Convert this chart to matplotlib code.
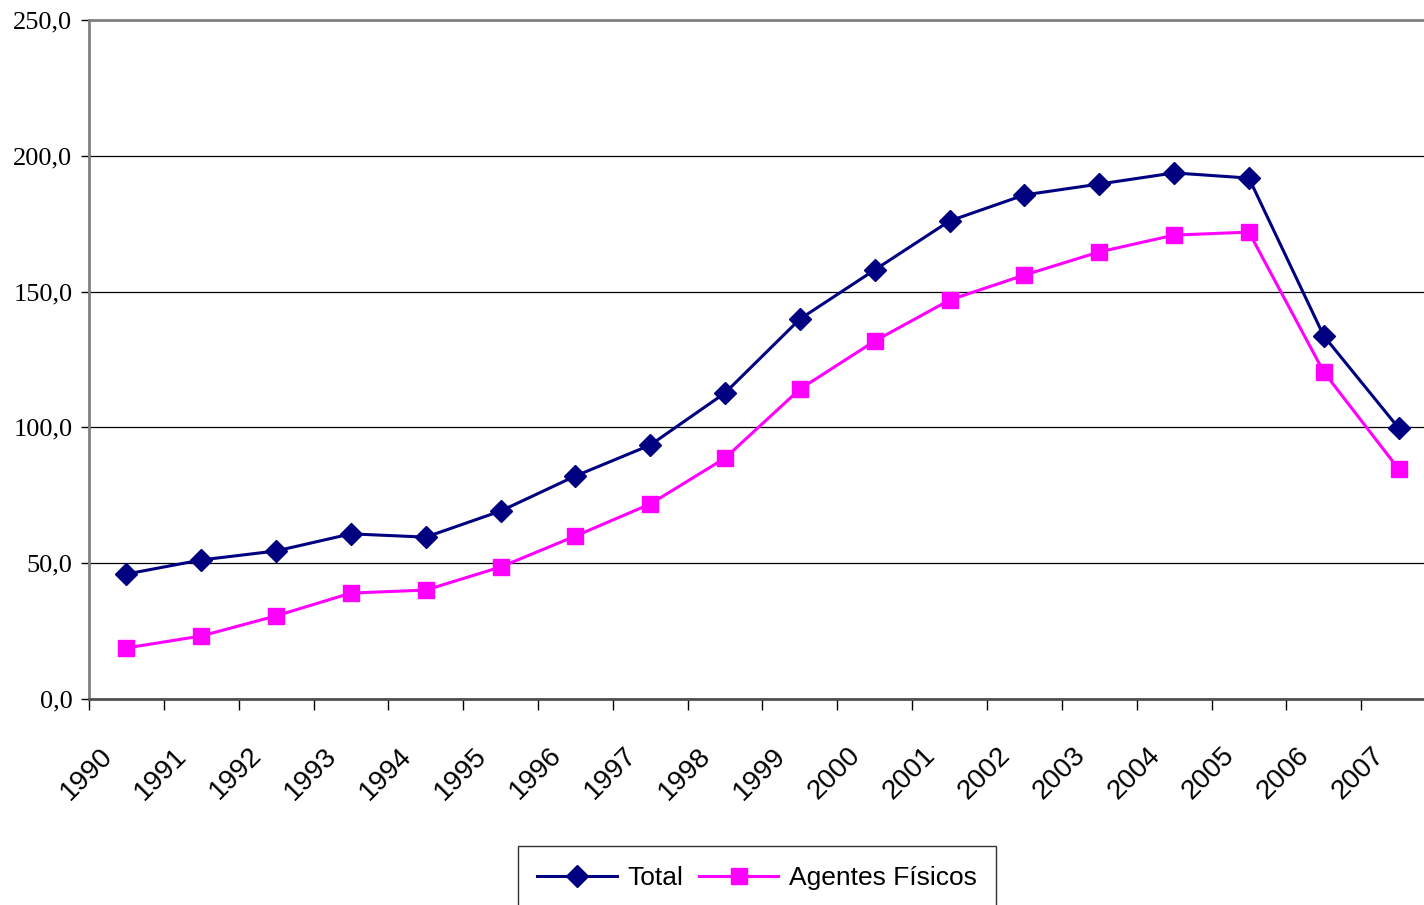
import matplotlib
matplotlib.use('Agg')
import matplotlib.pyplot as plt
import matplotlib.transforms as mtransforms
from matplotlib.ticker import FixedLocator, FuncFormatter

# データ
years = ['1990', '1991', '1992', '1993', '1994', '1995', '1996', '1997', '1998',
         '1999', '2000', '2001', '2002', '2003', '2004', '2005', '2006', '2007']
total = [46.0, 51.2, 54.5, 60.8, 59.6, 69.2, 82.1, 93.5, 112.7,
         139.9, 158.0, 176.0, 185.6, 189.6, 193.7, 191.8, 133.7, 99.8]
agentes_fisicos = [18.8, 23.2, 30.6, 39.0, 40.1, 48.6, 60.0, 71.8, 88.7,
                   114.1, 131.8, 146.9, 156.1, 164.6, 170.8, 171.9, 120.4, 84.7]
y_ticks = [0, 50, 100, 150, 200, 250]

W, H = 1424, 905
fig = plt.figure(figsize=(W / 100, H / 100), dpi=100)
ax = fig.add_axes([89 / W, 1 - 699 / H, (1436 - 89) / W, (699 - 20) / H])

x = list(range(len(years)))
ax.plot(x, total, color='#000080', linewidth=2.2, marker='D', markersize=11.5,
        label='Total', zorder=3)
ax.plot(x, agentes_fisicos, color='#FF00FF', linewidth=2.2, marker='s', markersize=12,
        label='Agentes Físicos', zorder=3)

ax.set_xlim(-0.5, len(years) - 0.5)
ax.set_ylim(0, 250)

# グリッドと枠線
ax.yaxis.set_major_locator(FixedLocator(y_ticks))
ax.yaxis.set_major_formatter(FuncFormatter(lambda v, p: f'{v:.1f}'.replace('.', ',')))
ax.grid(axis='y', color='black', linewidth=0.9)
ax.set_axisbelow(True)
for side in ['left', 'top']:
    ax.spines[side].set_color('#808080')
    ax.spines[side].set_linewidth(2)
ax.spines['bottom'].set_color('#505050')
ax.spines['bottom'].set_linewidth(2)
ax.spines['right'].set_visible(False)

ax.tick_params(axis='y', length=6, width=1, color='black', pad=6,
               labelsize=19, labelfontfamily='Liberation Serif')

# x軸: 区切りの目盛り + 中央のラベル
ax.xaxis.set_minor_locator(FixedLocator([i - 0.5 for i in range(len(years) + 1)]))
ax.xaxis.set_major_locator(FixedLocator(x))
ax.set_xticklabels(years, rotation=45, ha='right', va='center', rotation_mode='anchor')
ax.tick_params(axis='x', which='major', length=0, pad=38,
               labelsize=20, labelfontfamily='Liberation Sans')
ax.tick_params(axis='x', which='minor', length=8, width=1, color='black')
offset = mtransforms.ScaledTranslation(-18 / 100, 0, fig.dpi_scale_trans)
for lab in ax.get_xticklabels():
    lab.set_transform(lab.get_transform() + offset)

# 凡例
leg = fig.legend(loc='upper center', bbox_to_anchor=(757 / W, 1 - 846 / H),
                 ncol=2, frameon=True, fancybox=False, borderaxespad=0,
                 handlelength=3.0, columnspacing=0.6, handletextpad=0.4,
                 borderpad=0.75, prop={'family': 'Liberation Sans', 'size': 19})
leg.get_frame().set_edgecolor('black')
leg.get_frame().set_linewidth(1)

plt.savefig('out.png', dpi=100)
